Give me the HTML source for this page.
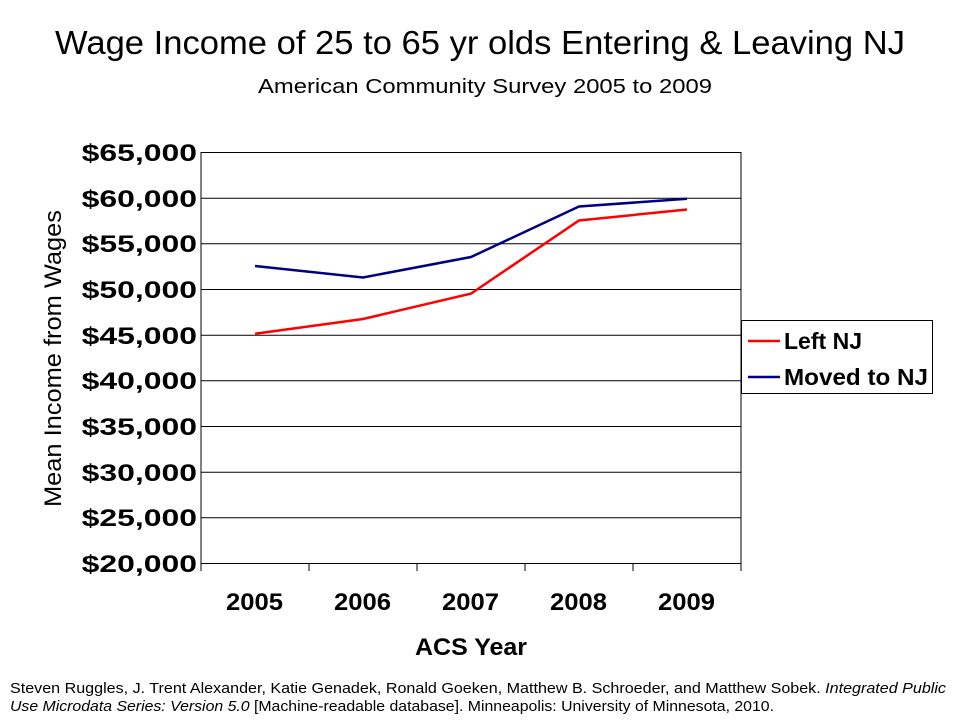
<!DOCTYPE html>
<html><head><meta charset="utf-8"><style>
body{margin:0;background:#fff;width:960px;height:720px;overflow:hidden;font-family:"Liberation Sans",Arial,sans-serif}
</style></head><body>
<svg width="960" height="720" xmlns="http://www.w3.org/2000/svg" font-family="Liberation Sans, Arial, sans-serif">
<text x="55" y="54" font-size="33" textLength="850" lengthAdjust="spacingAndGlyphs">Wage Income of 25 to 65 yr olds Entering &amp; Leaving NJ</text>
<text x="258" y="93" font-size="20" textLength="454" lengthAdjust="spacingAndGlyphs">American Community Survey 2005 to 2009</text>
<g stroke="#000" stroke-width="1">
<rect x="201" y="152.5" width="540" height="411" fill="none"/>
<line x1="201" x2="741" y1="198.2" y2="198.2"/>
<line x1="201" x2="741" y1="243.8" y2="243.8"/>
<line x1="201" x2="741" y1="289.5" y2="289.5"/>
<line x1="201" x2="741" y1="335.2" y2="335.2"/>
<line x1="201" x2="741" y1="380.8" y2="380.8"/>
<line x1="201" x2="741" y1="426.5" y2="426.5"/>
<line x1="201" x2="741" y1="472.2" y2="472.2"/>
<line x1="201" x2="741" y1="517.8" y2="517.8"/>
<line x1="201" x2="201" y1="563" y2="571"/>
<line x1="309" x2="309" y1="563" y2="571"/>
<line x1="417" x2="417" y1="563" y2="571"/>
<line x1="525" x2="525" y1="563" y2="571"/>
<line x1="633" x2="633" y1="563" y2="571"/>
<line x1="741" x2="741" y1="563" y2="571"/>
</g>
<g font-size="24" font-weight="bold" text-anchor="end">
<text transform="translate(197,161) scale(1.33,1)">$65,000</text>
<text transform="translate(197,207) scale(1.33,1)">$60,000</text>
<text transform="translate(197,252) scale(1.33,1)">$55,000</text>
<text transform="translate(197,298) scale(1.33,1)">$50,000</text>
<text transform="translate(197,344) scale(1.33,1)">$45,000</text>
<text transform="translate(197,389) scale(1.33,1)">$40,000</text>
<text transform="translate(197,435) scale(1.33,1)">$35,000</text>
<text transform="translate(197,481) scale(1.33,1)">$30,000</text>
<text transform="translate(197,526) scale(1.33,1)">$25,000</text>
<text transform="translate(197,572) scale(1.33,1)">$20,000</text>
</g>
<g font-size="24" font-weight="bold">
<text x="226" y="610" textLength="57" lengthAdjust="spacingAndGlyphs">2005</text>
<text x="334" y="610" textLength="57" lengthAdjust="spacingAndGlyphs">2006</text>
<text x="442" y="610" textLength="57" lengthAdjust="spacingAndGlyphs">2007</text>
<text x="550" y="610" textLength="57" lengthAdjust="spacingAndGlyphs">2008</text>
<text x="658" y="610" textLength="57" lengthAdjust="spacingAndGlyphs">2009</text>
<text x="415" y="655" textLength="112" lengthAdjust="spacingAndGlyphs">ACS Year</text>
</g>
<text transform="translate(61,507) rotate(-90)" font-size="24" textLength="297" lengthAdjust="spacingAndGlyphs">Mean Income from Wages</text>
<polyline fill="none" stroke="#ff0000" stroke-width="2.5" points="255,333.7 363,319 471,293.6 579,220.5 687,209.5"/>
<polyline fill="none" stroke="#000080" stroke-width="2.5" points="255,266 363,277.5 471,257 579,206.5 687,198.8"/>
<rect x="741.5" y="320.5" width="191" height="73" fill="#fff" stroke="#000"/>
<line x1="748" x2="780" y1="341" y2="341" stroke="#ff0000" stroke-width="2.5"/>
<line x1="748" x2="780" y1="377" y2="377" stroke="#000080" stroke-width="2.5"/>
<text x="784" y="349" font-size="23" font-weight="bold" textLength="78" lengthAdjust="spacingAndGlyphs">Left NJ</text>
<text x="784" y="385" font-size="23" font-weight="bold" textLength="144" lengthAdjust="spacingAndGlyphs">Moved to NJ</text>
<text x="10" y="693" font-size="15" textLength="936" lengthAdjust="spacingAndGlyphs">Steven Ruggles, J. Trent Alexander, Katie Genadek, Ronald Goeken, Matthew B. Schroeder, and Matthew Sobek.  <tspan font-style="italic">Integrated Public</tspan></text>
<text x="10" y="711" font-size="15" textLength="764" lengthAdjust="spacingAndGlyphs"><tspan font-style="italic">Use Microdata Series: Version 5.0</tspan> [Machine-readable database]. Minneapolis: University of Minnesota, 2010.</text>
</svg>
</body></html>
